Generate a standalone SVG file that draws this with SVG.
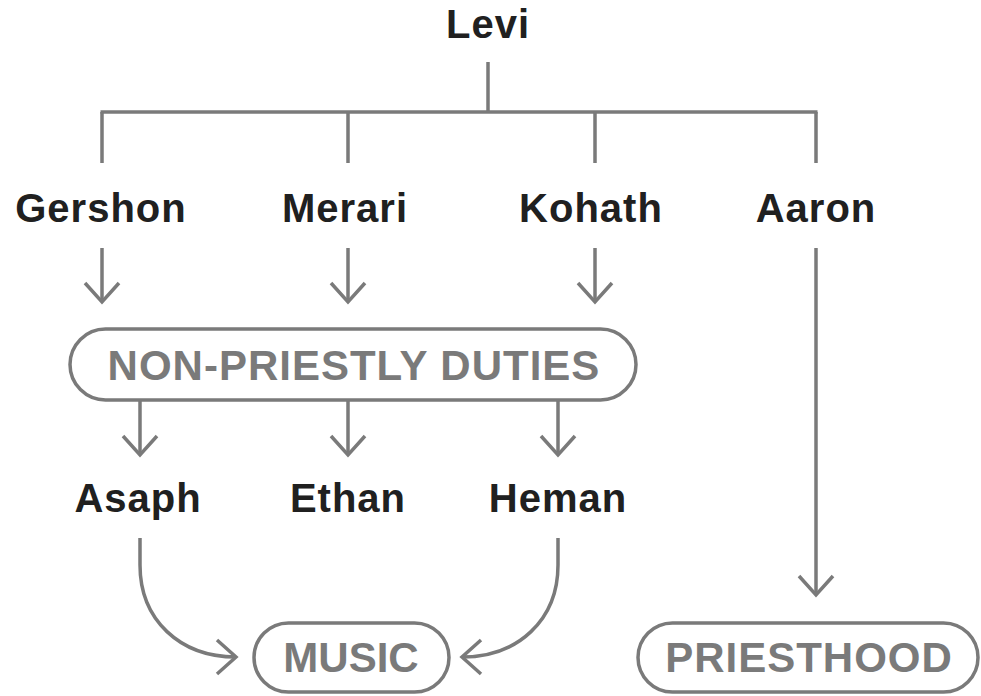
<svg xmlns="http://www.w3.org/2000/svg" width="981" height="696" viewBox="0 0 981 696">
<defs>
<style>
.name{font-family:"Liberation Sans",Arial,sans-serif;font-weight:bold;font-size:40px;fill:#202020;text-anchor:middle;letter-spacing:1px}
.tag{font-family:"Liberation Sans",Arial,sans-serif;font-weight:bold;font-size:42px;fill:#7a7a7a;text-anchor:middle}
.pill{fill:none;stroke:#7a7a7a;stroke-width:3.5}
.ln{fill:none;stroke:#7a7a7a;stroke-width:3.5}
.arr{fill:none;stroke:#7a7a7a;stroke-width:3.5;marker-end:url(#chev)}
</style>
<marker id="chev" markerUnits="userSpaceOnUse" viewBox="-24 -20 28 40" refX="0" refY="0" markerWidth="28" markerHeight="40" orient="auto">
<path d="M-19,-17 L0,0 L-19,17" fill="none" stroke="#7a7a7a" stroke-width="3.5"/>
</marker>
</defs>
<rect width="981" height="696" fill="#ffffff"/>
<g id="connectors">
<path class="ln" d="M488,62 V112"/>
<path class="ln" d="M100.5,112 H817.5" stroke-width="4"/>
<path class="ln" d="M102,112 V163 M348,112 V163 M595,112 V163 M816,112 V163"/>
<path class="arr" d="M102,248 V302"/>
<path class="arr" d="M348,248 V302"/>
<path class="arr" d="M595,248 V302"/>
<path class="arr" d="M816,248 V595"/>
<path class="arr" d="M140,400 V455"/>
<path class="arr" d="M348,400 V455"/>
<path class="arr" d="M558,400 V455"/>
<path class="arr" d="M140,538 V565 C140,620 180,657 236,657"/>
<path class="arr" d="M558,538 V565 C558,620 518,657 462,657"/>
</g>
<g id="levi"><text class="name" x="488" y="38">Levi</text></g>
<g id="gershon"><text class="name" x="101" y="222">Gershon</text></g>
<g id="merari"><text class="name" x="345" y="222">Merari</text></g>
<g id="kohath"><text class="name" x="591" y="222">Kohath</text></g>
<g id="aaron"><text class="name" x="816" y="222">Aaron</text></g>
<g id="non-priestly">
<rect class="pill" x="70" y="329" width="566" height="71" rx="35.5"/>
<text class="tag" x="354" y="380" letter-spacing="1">NON-PRIESTLY DUTIES</text>
</g>
<g id="asaph"><text class="name" x="138" y="512">Asaph</text></g>
<g id="ethan"><text class="name" x="348" y="512">Ethan</text></g>
<g id="heman"><text class="name" x="558" y="512">Heman</text></g>
<g id="music">
<rect class="pill" x="254" y="623" width="195" height="69" rx="34.5"/>
<text class="tag" x="351" y="672">MUSIC</text>
</g>
<g id="priesthood">
<rect class="pill" x="638" y="623" width="340" height="69" rx="34.5"/>
<text class="tag" x="809" y="672" letter-spacing="1">PRIESTHOOD</text>
</g>
</svg>
